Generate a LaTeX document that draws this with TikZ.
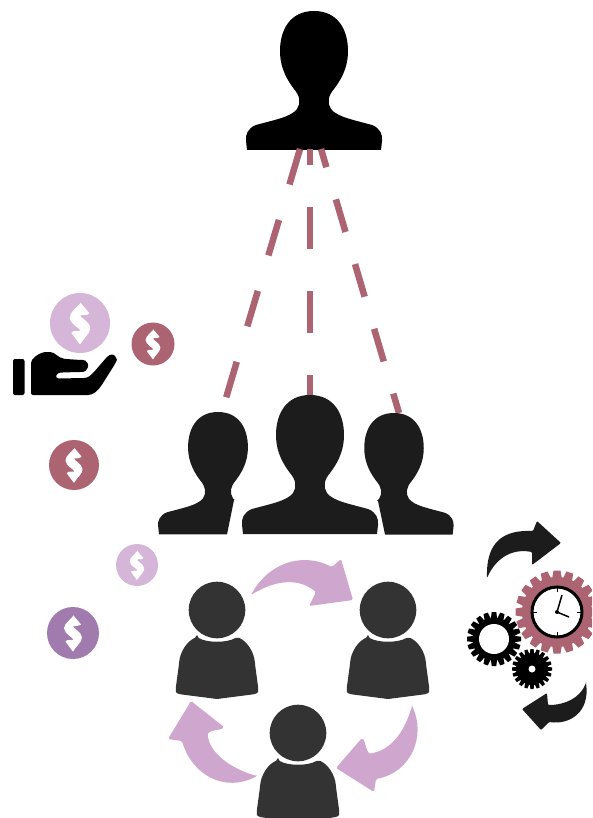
\documentclass[tikz,border=0pt]{standalone}
\definecolor{rose}{HTML}{AC6472}
\definecolor{lilac}{HTML}{D5B5D8}
\definecolor{plum}{HTML}{A17AAE}
\definecolor{arrowpink}{HTML}{CFA6CD}
\definecolor{nearblack}{HTML}{1C1C1C}
\definecolor{persongrey}{HTML}{333333}
\tikzset{
  link/.style={draw=rose,line width=6.5pt},
  cyclearrow/.style={fill=arrowpink,rounded corners=1.5pt},
  turnarrow/.style={fill=nearblack,rounded corners=1pt},
}
% local-coordinates bust, origin at top of the head
\newcommand{\bustpath}{
  (0,0) .. controls (-24,0) and (-34,19) .. (-34,40)
  .. controls (-34,58) and (-26,70) .. (-20,78)
  .. controls (-14,85) and (-13,92) .. (-17,98)
  .. controls (-23,106) and (-40,109) .. (-58,114)
  .. controls (-66,117) and (-69,124) .. (-68,130)
  -- (-67,139) -- (67,139) -- (68,130)
  .. controls (69,124) and (66,117) .. (58,114)
  .. controls (40,109) and (23,106) .. (17,98)
  .. controls (13,92) and (14,85) .. (20,78)
  .. controls (26,70) and (34,58) .. (34,40)
  .. controls (34,19) and (24,0) .. (0,0) -- cycle}
\newcommand{\coin}[4]{% x y r colour
  \begin{scope}[shift={(#1,#2)},x=#3pt,y=-#3pt]
    \fill[#4] (0,0) circle [radius=1];
    \fill[white,rounded corners=0.4pt] (0.02,-.67) -- (.31,-.33)
      .. controls (.22,-.22) and (.1,-.3) .. (.02,-.26)
      .. controls (-.02,-.2) and (.33,-.04) .. (.34,.17)
      .. controls (.33,.37) and (.12,.5) .. (.0,.72)
      -- (-.29,.33)
      .. controls (-.22,.22) and (-.08,.3) .. (0,.26)
      .. controls (.03,.2) and (-.33,.03) .. (-.34,-.18)
      .. controls (-.33,-.37) and (-.12,-.5) .. cycle;
  \end{scope}}
\newcommand{\gear}[7]{% x y outer root teeth colour toothhalfwidth
  \begin{scope}[shift={(#1,#2)}]
    \fill[#6] (0,0) circle [radius=#4pt];
    \pgfmathsetmacro{\gstep}{360/#5}
    \foreach \gi in {1,...,#5}{
      \fill[#6,rotate=\gi*\gstep] (-#7pt*1.35,-#4pt+1pt) -- (-#7pt,-#3pt) -- (#7pt,-#3pt) -- (#7pt*1.35,-#4pt+1pt) -- cycle;
    }
  \end{scope}}
\newcommand{\person}[2]{% x y of the head centre
  \begin{scope}[shift={(#1,#2)}]
    \fill[persongrey] (0,0) circle [radius=28.3pt];
    \fill[persongrey,rounded corners=2pt] (-20,27) .. controls (-10,33) and (10,33) .. (20,27)
      .. controls (30,31) and (37,42) .. (38,54)
      -- (41.5,80) .. controls (41,83) and (38,84) .. (35,84.5)
      -- (0,89) -- (-35,84.5) .. controls (-38,84) and (-41,83) .. (-41.5,80)
      -- (-38,54) .. controls (-37,42) and (-30,31) .. cycle;
  \end{scope}}
\begin{document}
\begin{tikzpicture}[x=1pt,y=-1pt]
\useasboundingbox (0,0) rectangle (592,818);
\clip (0,0) rectangle (592,818);

% top person
\begin{scope}[shift={(314,11)}]
  \fill[black] \bustpath;
\end{scope}

% anchors of the connectors
\coordinate (t1) at (300,149);
\coordinate (t2) at (310,149);
\coordinate (t3) at (321,149);
\coordinate (b1) at (226,398);
\coordinate (b2) at (310,400);
\coordinate (b3) at (399,413);
\draw[link,dash pattern=on 37pt off 37pt] (t1) -- (b1);
\draw[link,dash pattern=on 42pt off 42pt,dash phase=26pt] (t2) -- (b2);
\draw[link,dash pattern=on 34pt off 33.5pt,dash phase=15pt] (t3) -- (b3);

% team
\begin{scope}[shift={(310,395)}]
  \fill[nearblack] \bustpath;
\end{scope}
\begin{scope}
  \clip (150,400) -- (260,400) -- (260,498) -- (234,500) -- (227,534.5) -- (150,534.5) -- cycle;
  \begin{scope}[shift={(218,412)},scale=0.88]
    \fill[nearblack] \bustpath;
  \end{scope}
\end{scope}
\begin{scope}
  \clip (460,400) -- (360,400) -- (360,498) -- (378,501) -- (385,534.5) -- (460,534.5) -- cycle;
  \begin{scope}[shift={(394,413)},scale=0.875]
    \fill[nearblack] \bustpath;
  \end{scope}
\end{scope}

% hand and coins
\coin{80}{323}{30}{lilac}
\coin{153}{344}{21.5}{rose}
\coin{74}{465}{25}{rose}
\coin{137}{565}{21}{lilac}
\coin{73}{633}{26}{plum}
\fill[black,rounded corners=2pt] (13,359) rectangle (24.5,395);
\fill[black,rounded corners=2pt] (31,395) -- (31,361)
  .. controls (36,355) and (42,352) .. (48,352)
  .. controls (55,352) and (58,358) .. (66,359)
  -- (81,360) .. controls (87,360) and (89,365) .. (87,369)
  .. controls (85,372) and (82,372) .. (78,372)
  -- (62,372.5) .. controls (56,373) and (55,378) .. (60,378.5)
  -- (82,378) .. controls (88,378) and (91,375) .. (94,372)
  -- (106,358) .. controls (110,354) and (114,354) .. (116,358)
  .. controls (117,360) and (116,362) .. (115,364)
  -- (103,383) .. controls (98,391) and (93,395) .. (86,395) -- cycle;

% cycle arrows
\fill[cyclearrow] (251,595) .. controls (267,565) and (300,551) .. (332,567)
  -- (341,559) -- (353,600) -- (309,606) -- (316,592)
  .. controls (296,576) and (272,582) .. cycle;
\fill[cyclearrow] (412,706) .. controls (426,735) and (412,772) .. (376,779)
  -- (374,792) -- (336,768) -- (362,738)
  .. controls (366,742) and (366,755) .. (373,753)
  .. controls (393,748) and (405,730) .. cycle;
\fill[cyclearrow] (257,776) .. controls (225,793) and (192,775) .. (182,741)
  -- (168,739) -- (191,701) -- (224,727)
  .. controls (220,731) and (207,729) .. (208,737)
  .. controls (212,756) and (235,770) .. cycle;

% people
\person{217}{610}
\person{388}{610}
\person{298}{733}

% process arrows
\fill[turnarrow] (487,578) .. controls (486,540) and (505,530) .. (533,531)
  -- (537,521) -- (561,543) -- (532,565) -- (532,552)
  .. controls (510,548) and (495,560) .. cycle;
\fill[turnarrow] (586,683) .. controls (590,712) and (570,725) .. (549,722)
  -- (541,730) -- (522,709) -- (547,693) -- (548,705)
  .. controls (565,705) and (580,698) .. cycle;

% gears
\gear{557}{612}{41.5}{35}{20}{rose}{3.5}
\fill[white] (557,612) circle [radius=25pt];
\draw[black,line width=3pt] (557,612) circle [radius=25pt];
\foreach \tickangle in {0,90,180,270}{
  \draw[black,line width=.7pt,rotate around={\tickangle:(557,612)}] (557,587) -- (557,592);
}
\draw[black,line width=1.5pt] (557,612) -- (562,595);
\draw[black,line width=1.5pt] (557,612) -- (569,617);
\fill[black] (557,612) circle [radius=2pt];
\gear{494}{639}{27}{21.5}{20}{black}{2.3}
\fill[white] (494,639) circle [radius=15pt];
\gear{532}{669}{20}{16}{20}{black}{1.6}
\fill[white] (532,669) circle [radius=3.5pt];
\end{tikzpicture}
\end{document}
